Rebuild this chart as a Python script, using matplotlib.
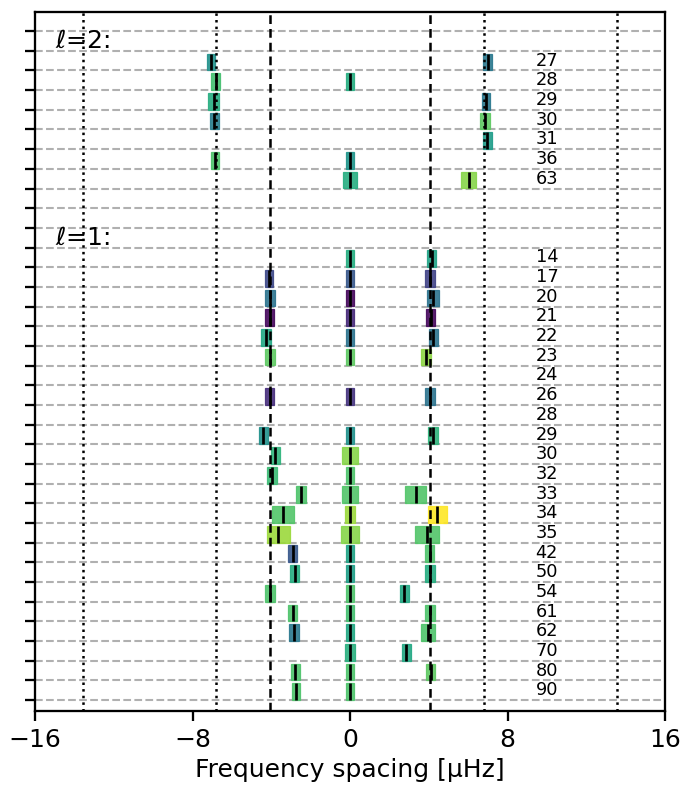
import numpy as np
import matplotlib
matplotlib.use("Agg")
import matplotlib.pyplot as plt
from matplotlib.patches import Rectangle

# ---------------- data ----------------
# each entry: (centre [muHz], width [muHz], colour value 0..1) or None
l2_labels = [27, 28, 29, 30, 31, 36, 63]
l2_minus = [(-7.05, 0.38, 0.50), (-6.81, 0.45, 0.70), (-6.93, 0.54, 0.62),
            (-6.89, 0.46, 0.42), None, (-6.85, 0.44, 0.72), None]
l2_zero = [None, (0.0, 0.44, 0.62), None, None, None,
           (0.0, 0.44, 0.52), (0.0, 0.69, 0.62)]
l2_plus = [(6.99, 0.46, 0.40), None, (6.91, 0.44, 0.40), (6.87, 0.53, 0.75),
           (6.98, 0.44, 0.55), None, (6.03, 0.76, 0.82)]

l1_labels = [14, 17, 20, 21, 22, 23, 24, 26, 28, 29, 30, 32, 33, 34, 35,
             42, 50, 54, 61, 62, 70, 80, 90]
l1_minus = [None, (-4.11, 0.44, 0.22), (-4.08, 0.51, 0.38), (-4.08, 0.44, 0.02),
            (-4.26, 0.54, 0.60), (-4.06, 0.48, 0.75), None, (-4.08, 0.44, 0.13),
            None, (-4.41, 0.45, 0.50), (-3.79, 0.47, 0.65), (-3.96, 0.47, 0.68),
            (-2.49, 0.47, 0.72), (-3.40, 1.08, 0.73), (-3.64, 1.15, 0.85),
            (-2.91, 0.48, 0.27), (-2.81, 0.44, 0.62), (-4.06, 0.48, 0.72),
            (-2.90, 0.46, 0.72), (-2.85, 0.47, 0.40), None, (-2.78, 0.46, 0.72),
            (-2.74, 0.44, 0.72)]
l1_zero = [(0.0, 0.45, 0.62), (0.0, 0.45, 0.27), (0.0, 0.45, 0.02), (0.0, 0.45, 0.12),
           (0.0, 0.45, 0.38), (0.0, 0.45, 0.75), None, (0.0, 0.45, 0.15),
           None, (0.0, 0.45, 0.50), (0.0, 0.85, 0.82), (0.0, 0.45, 0.72),
           (0.0, 0.81, 0.73), (0.0, 0.54, 0.85), (0.0, 0.95, 0.82),
           (0.0, 0.45, 0.58), (0.0, 0.45, 0.56), (0.0, 0.45, 0.72),
           (0.0, 0.45, 0.70), (0.0, 0.45, 0.60), (0.0, 0.52, 0.63), (0.0, 0.45, 0.72),
           (0.0, 0.45, 0.72)]
l1_plus = [(4.14, 0.48, 0.58), (4.07, 0.48, 0.20), (4.22, 0.57, 0.38), (4.10, 0.47, 0.02),
           (4.24, 0.47, 0.38), (3.86, 0.46, 0.83), None, (4.07, 0.48, 0.38),
           None, (4.22, 0.55, 0.65), None, None,
           (3.33, 1.07, 0.73), (4.44, 0.98, 1.00), (3.91, 1.20, 0.73),
           (4.06, 0.46, 0.72), (4.07, 0.48, 0.62), (2.75, 0.45, 0.60),
           (4.07, 0.48, 0.72), (3.95, 0.73, 0.72), (2.85, 0.45, 0.60), (4.09, 0.47, 0.75),
           None]

split_l1 = 4.07
split_l2 = 6.785
xticks = [-16, -8, 0, 8, 16]

# ---------------- figure ----------------
plt.rcParams["axes.linewidth"] = 1.1
plt.rcParams["xtick.major.size"] = 5.0
plt.rcParams["ytick.major.size"] = 5.0
plt.rcParams["xtick.major.width"] = 1.1
plt.rcParams["ytick.major.width"] = 1.1

fig = plt.figure(figsize=(683 / 150, 787 / 150), dpi=150)
ax = fig.add_axes([35 / 683, 1 - 711 / 787, (665 - 35) / 683, (711 - 12) / 787])
cmap = plt.get_cmap("viridis")

# row layout: label row, l=2 rows, 2 blank rows, label row, l=1 rows
row_l2_label = 0
l2_rows = list(range(1, 1 + len(l2_labels)))
row_l1_label = l2_rows[-1] + 3
l1_rows = list(range(row_l1_label + 1, row_l1_label + 1 + len(l1_labels)))
n_rows = l1_rows[-1] + 1


def draw_mode(row, entry):
    if entry is None:
        return
    x, w, c = entry
    y0 = row + 0.14
    h = 0.85
    ax.add_patch(Rectangle((x - w / 2, y0), w, h, facecolor=cmap(c),
                           edgecolor=cmap(c), lw=0.6, alpha=0.9, zorder=2))
    ax.plot([x, x], [y0, y0 + h], color="k", lw=1.3, zorder=3,
            solid_capstyle="butt")


for rows, labels, mm, m0, mp in [(l2_rows, l2_labels, l2_minus, l2_zero, l2_plus),
                                 (l1_rows, l1_labels, l1_minus, l1_zero, l1_plus)]:
    for r, lab, a, b, c in zip(rows, labels, mm, m0, mp):
        draw_mode(r, a)
        draw_mode(r, b)
        draw_mode(r, c)
        ax.text(10, r + 0.5, str(lab), ha="center", va="center", fontsize=8.5)

ax.text(-15, row_l2_label + 0.5, r"$\ell$=2:", ha="left", va="center", fontsize=12)
ax.text(-15, row_l1_label + 0.5, r"$\ell$=1:", ha="left", va="center", fontsize=12)

# horizontal grid
for yy in range(n_rows + 1):
    ax.axhline(yy, color="#b0b0b0", lw=1.0, ls=(0, (3.7, 1.6)), zorder=1)

# vertical reference lines
for s in (-1, 1):
    ax.axvline(s * split_l1, color="k", lw=1.2, ls=(0, (3.5, 2.0)), zorder=4)
    ax.axvline(s * split_l2, color="k", lw=1.2, ls=":", zorder=4)
    ax.axvline(s * 2 * split_l2, color="k", lw=1.2, ls=":", zorder=4)

ax.set_xlim(-16, 16)
ax.set_xticks(xticks)
ax.set_xticklabels([f"{t:d}".replace("-", "\u2212") for t in xticks], fontsize=12)
ax.tick_params(axis="x", pad=3)
ax.set_yticks(range(n_rows + 1))
ax.set_yticklabels([])
ax.set_ylim(34.55, -0.97)
ax.set_xlabel("Frequency spacing [μHz]", fontsize=12, labelpad=3)

fig.savefig("out.png", dpi=150)
